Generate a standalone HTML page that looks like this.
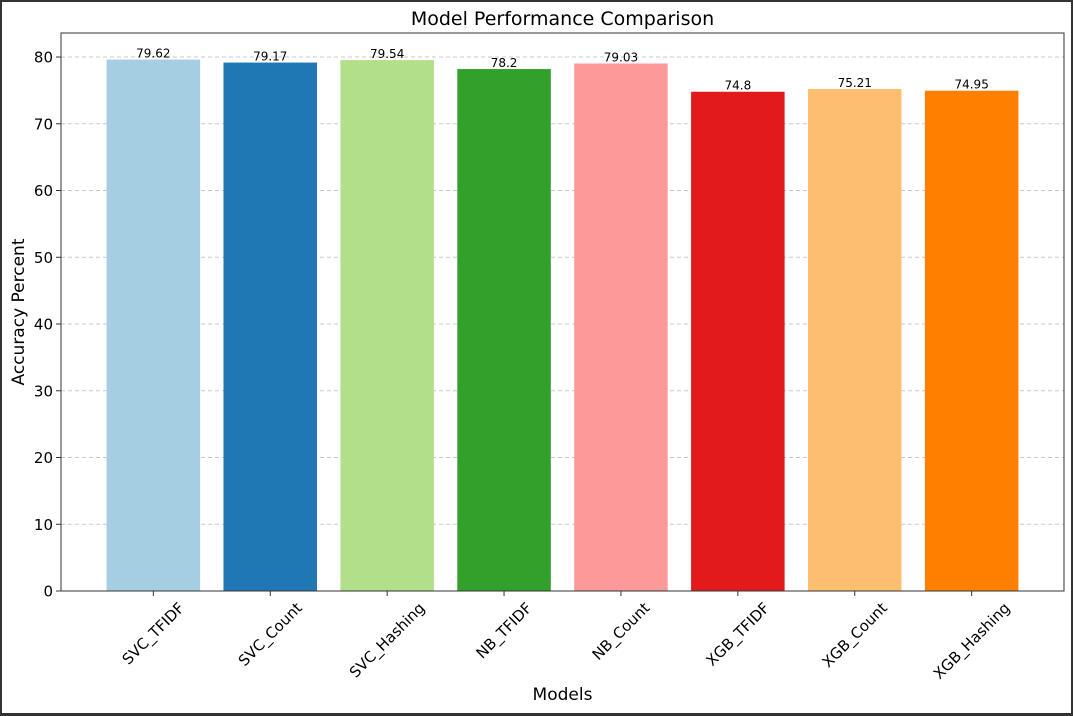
<!DOCTYPE html>
<html><head><meta charset="utf-8"><style>
html,body{margin:0;padding:0;background:#333;}
svg{display:block;}
text{font-family:"DejaVu Sans","Liberation Sans",sans-serif;fill:#000;}
</style></head><body>
<svg id="chart" width="1073" height="716">
<rect x="2" y="2" width="1069" height="711" fill="#fff"/>
<g id="grid"></g><g id="bars"></g><g id="axes"></g>
</svg>
<script>
const categories=["SVC_TFIDF","SVC_Count","SVC_Hashing","NB_TFIDF","NB_Count","XGB_TFIDF","XGB_Count","XGB_Hashing"];
const values=[79.62,79.17,79.54,78.2,79.03,74.8,75.21,74.95];
const valueLabels=["79.62","79.17","79.54","78.2","79.03","74.8","75.21","74.95"];
const yTicks=[0,10,20,30,40,50,60,70,80];
const colors=["#a6cee3","#1f78b4","#b2df8a","#33a02c","#fb9a99","#e31a1c","#fdbf6f","#ff7f00"];
const NS="http://www.w3.org/2000/svg";
const L=61,R=1064,T=33,B=591;
const yMax=83.6;
const y=v=>B-(v/yMax)*(B-T);
const n=categories.length;
const xMin=-0.4-0.05*(n-0.2),xMax=n-1+0.4+0.05*(n-0.2);
const x=i=>L+(i-xMin)/(xMax-xMin)*(R-L);
const bw=0.8*(R-L)/(xMax-xMin);
function mk(tag,attrs,parent,txt){const e=document.createElementNS(NS,tag);for(const k in attrs)e.setAttribute(k,attrs[k]);if(txt!==undefined)e.textContent=txt;parent.appendChild(e);return e;}
const grid=document.getElementById('grid'),bars=document.getElementById('bars'),axes=document.getElementById('axes');
yTicks.forEach(t=>{
 const g=mk('line',{x1:L,x2:R,y1:y(t),y2:y(t),stroke:'#c8c8c8','stroke-dasharray':'4,3','stroke-width':1},grid);
 
 
 const tk=mk('line',{x1:L-5,x2:L,y1:y(t),y2:y(t),stroke:'#333'},axes);
 
 
 const tl=mk('text',{x:L-8,y:y(t)+5.5,'text-anchor':'end','font-size':15},axes,String(t));
 
 
});
values.forEach((v,i)=>{
 const r=mk('rect',{x:x(i)-bw/2,y:y(v),width:bw,height:B-y(v),fill:colors[i]},bars);
 
 
 const vl=mk('text',{x:x(i),y:y(v)-2,'text-anchor':'middle','font-size':12},bars,valueLabels[i]);
 
 
 const tk=mk('line',{x1:x(i),x2:x(i),y1:B,y2:B+5,stroke:'#333'},axes);
 
 
 const tl=mk('text',{x:0,y:0,'text-anchor':'middle','font-size':15,'dominant-baseline':'central'},axes,categories[i]);
 
 
 const w=tl.getComputedTextLength();
 const h=(w+15)*0.7071;
 tl.setAttribute('transform','translate('+x(i)+','+(B+9+h/2)+') rotate(-45)');
});
const fr=mk('rect',{x:L,y:T,width:R-L,height:B-T,fill:'none',stroke:'#333','stroke-width':1},axes);


const ti=mk('text',{x:(L+R)/2,y:25,'text-anchor':'middle','font-size':19},axes,'Model Performance Comparison');


const xl=mk('text',{x:(L+R)/2,y:700,'text-anchor':'middle','font-size':17},axes,'Models');


const yl=mk('text',{x:0,y:0,'text-anchor':'middle','font-size':17,transform:'translate(24,'+((T+B)/2)+') rotate(-90)'},axes,'Accuracy Percent');


</script>
</body></html>
